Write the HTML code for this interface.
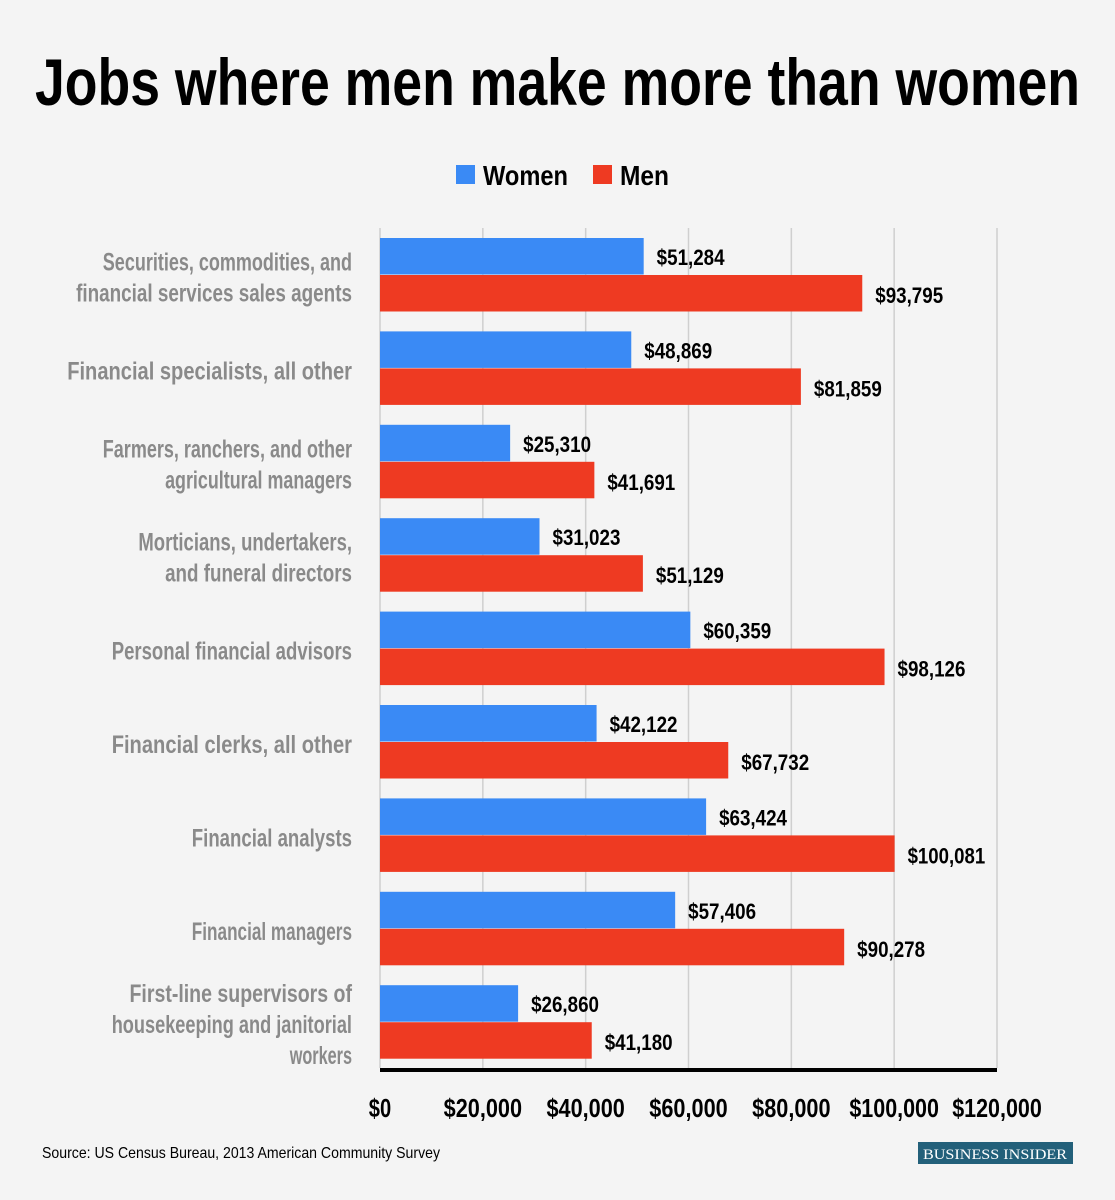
<!DOCTYPE html>
<html><head><meta charset="utf-8"><style>
body{margin:0;background:#f4f4f4;}
svg{display:block;font-family:"Liberation Sans Narrow","Liberation Sans",sans-serif;font-weight:bold;}
</style></head><body>
<svg id="chart" width="1115" height="1200" viewBox="0 0 1115 1200" xmlns="http://www.w3.org/2000/svg">
<rect width="1115" height="1200" fill="#f4f4f4"/>
<text x="35" y="105" font-size="66" fill="#000" textLength="1045" lengthAdjust="spacingAndGlyphs">Jobs where men make more than women</text>
<g>
<rect x="456" y="165" width="19" height="19" fill="#3a8af5"/>
<text x="483" y="185" font-size="28" fill="#000" textLength="85" lengthAdjust="spacingAndGlyphs">Women</text>
<rect x="593" y="165" width="19" height="19" fill="#ee3a22"/>
<text x="620" y="185" font-size="28" fill="#000" textLength="49" lengthAdjust="spacingAndGlyphs">Men</text>
</g>
<g id="grid"></g><g id="bars"></g><g id="labels"></g><g id="ticks"></g>
<rect x="380" y="1068" width="617" height="4" fill="#000"/>
<text x="42" y="1158" font-size="16" font-weight="normal" fill="#000" textLength="398" lengthAdjust="spacingAndGlyphs">Source: US Census Bureau, 2013 American Community Survey</text>
<rect x="918" y="1142" width="155" height="22" fill="#23607a"/>
<text x="995" y="1159" font-size="15" font-family="Liberation Serif,serif" font-weight="normal" fill="#fff" text-anchor="middle" textLength="144" lengthAdjust="spacingAndGlyphs">BUSINESS INSIDER</text>
</svg>
<script>
const categories=[["Securities, commodities, and","financial services sales agents"],["Financial specialists, all other"],["Farmers, ranchers, and other","agricultural managers"],["Morticians, undertakers,","and funeral directors"],["Personal financial advisors"],["Financial clerks, all other"],["Financial analysts"],["Financial managers"],["First-line supervisors of","housekeeping and janitorial","workers"]];
const women=[51284,48869,25310,31023,60359,42122,63424,57406,26860];
const men=[93795,81859,41691,51129,98126,67732,100081,90278,41180];
const ticks=[0,20000,40000,60000,80000,100000,120000];
const NS="http://www.w3.org/2000/svg";
const x=v=>380+v*(617/120000);
const rowY=i=>238+i*93.4;
const fmt=v=>"$"+v.toLocaleString("en-US");
function mk(t,a,p){const e=document.createElementNS(NS,t);for(const k in a)e.setAttribute(k,a[k]);p.appendChild(e);return e;}
const grid=document.getElementById("grid"),bars=document.getElementById("bars"),labels=document.getElementById("labels"),tk=document.getElementById("ticks");
ticks.forEach(t=>{
 const l=mk("line",{x1:x(t),x2:x(t),y1:228,y2:1068,stroke:"#cfcfcf","stroke-width":1.5},grid);
 
 
 const s="$"+t.toLocaleString("en-US");
 const tx=mk("text",{x:x(t),y:1117,"font-size":26,"text-anchor":"middle",fill:"#000",textLength:s.length*11.2,lengthAdjust:"spacingAndGlyphs"},tk);
 tx.textContent=s;
 
 
});
categories.forEach((c,i)=>{
 const y=rowY(i);
 const bw=mk("rect",{x:380,y:y,width:x(women[i])-380,height:36.5,fill:"#3a8af5"},bars);
 
 
 const bm=mk("rect",{x:380,y:y+37,width:x(men[i])-380,height:36.5,fill:"#ee3a22"},bars);
 
 
 [[women[i],y+27],[men[i],y+65]].forEach(([v,yy])=>{
  const s=fmt(v);
  const t=mk("text",{x:x(v)+13,y:yy,"font-size":22,fill:"#000",textLength:s.length*9.7,lengthAdjust:"spacingAndGlyphs"},labels);
  t.textContent=s;
  
  
 });
 const n=c.length,cy=y+37,lh=31;
 c.forEach((line,j)=>{
  const t=mk("text",{x:352,y:cy+(j-(n-1)/2)*lh+11,"font-size":25,"text-anchor":"end",fill:"#8a8a8a",textLength:line.length*8.9,lengthAdjust:"spacingAndGlyphs"},labels);
  t.textContent=line;
  
  
 });
});
</script>
</body></html>
